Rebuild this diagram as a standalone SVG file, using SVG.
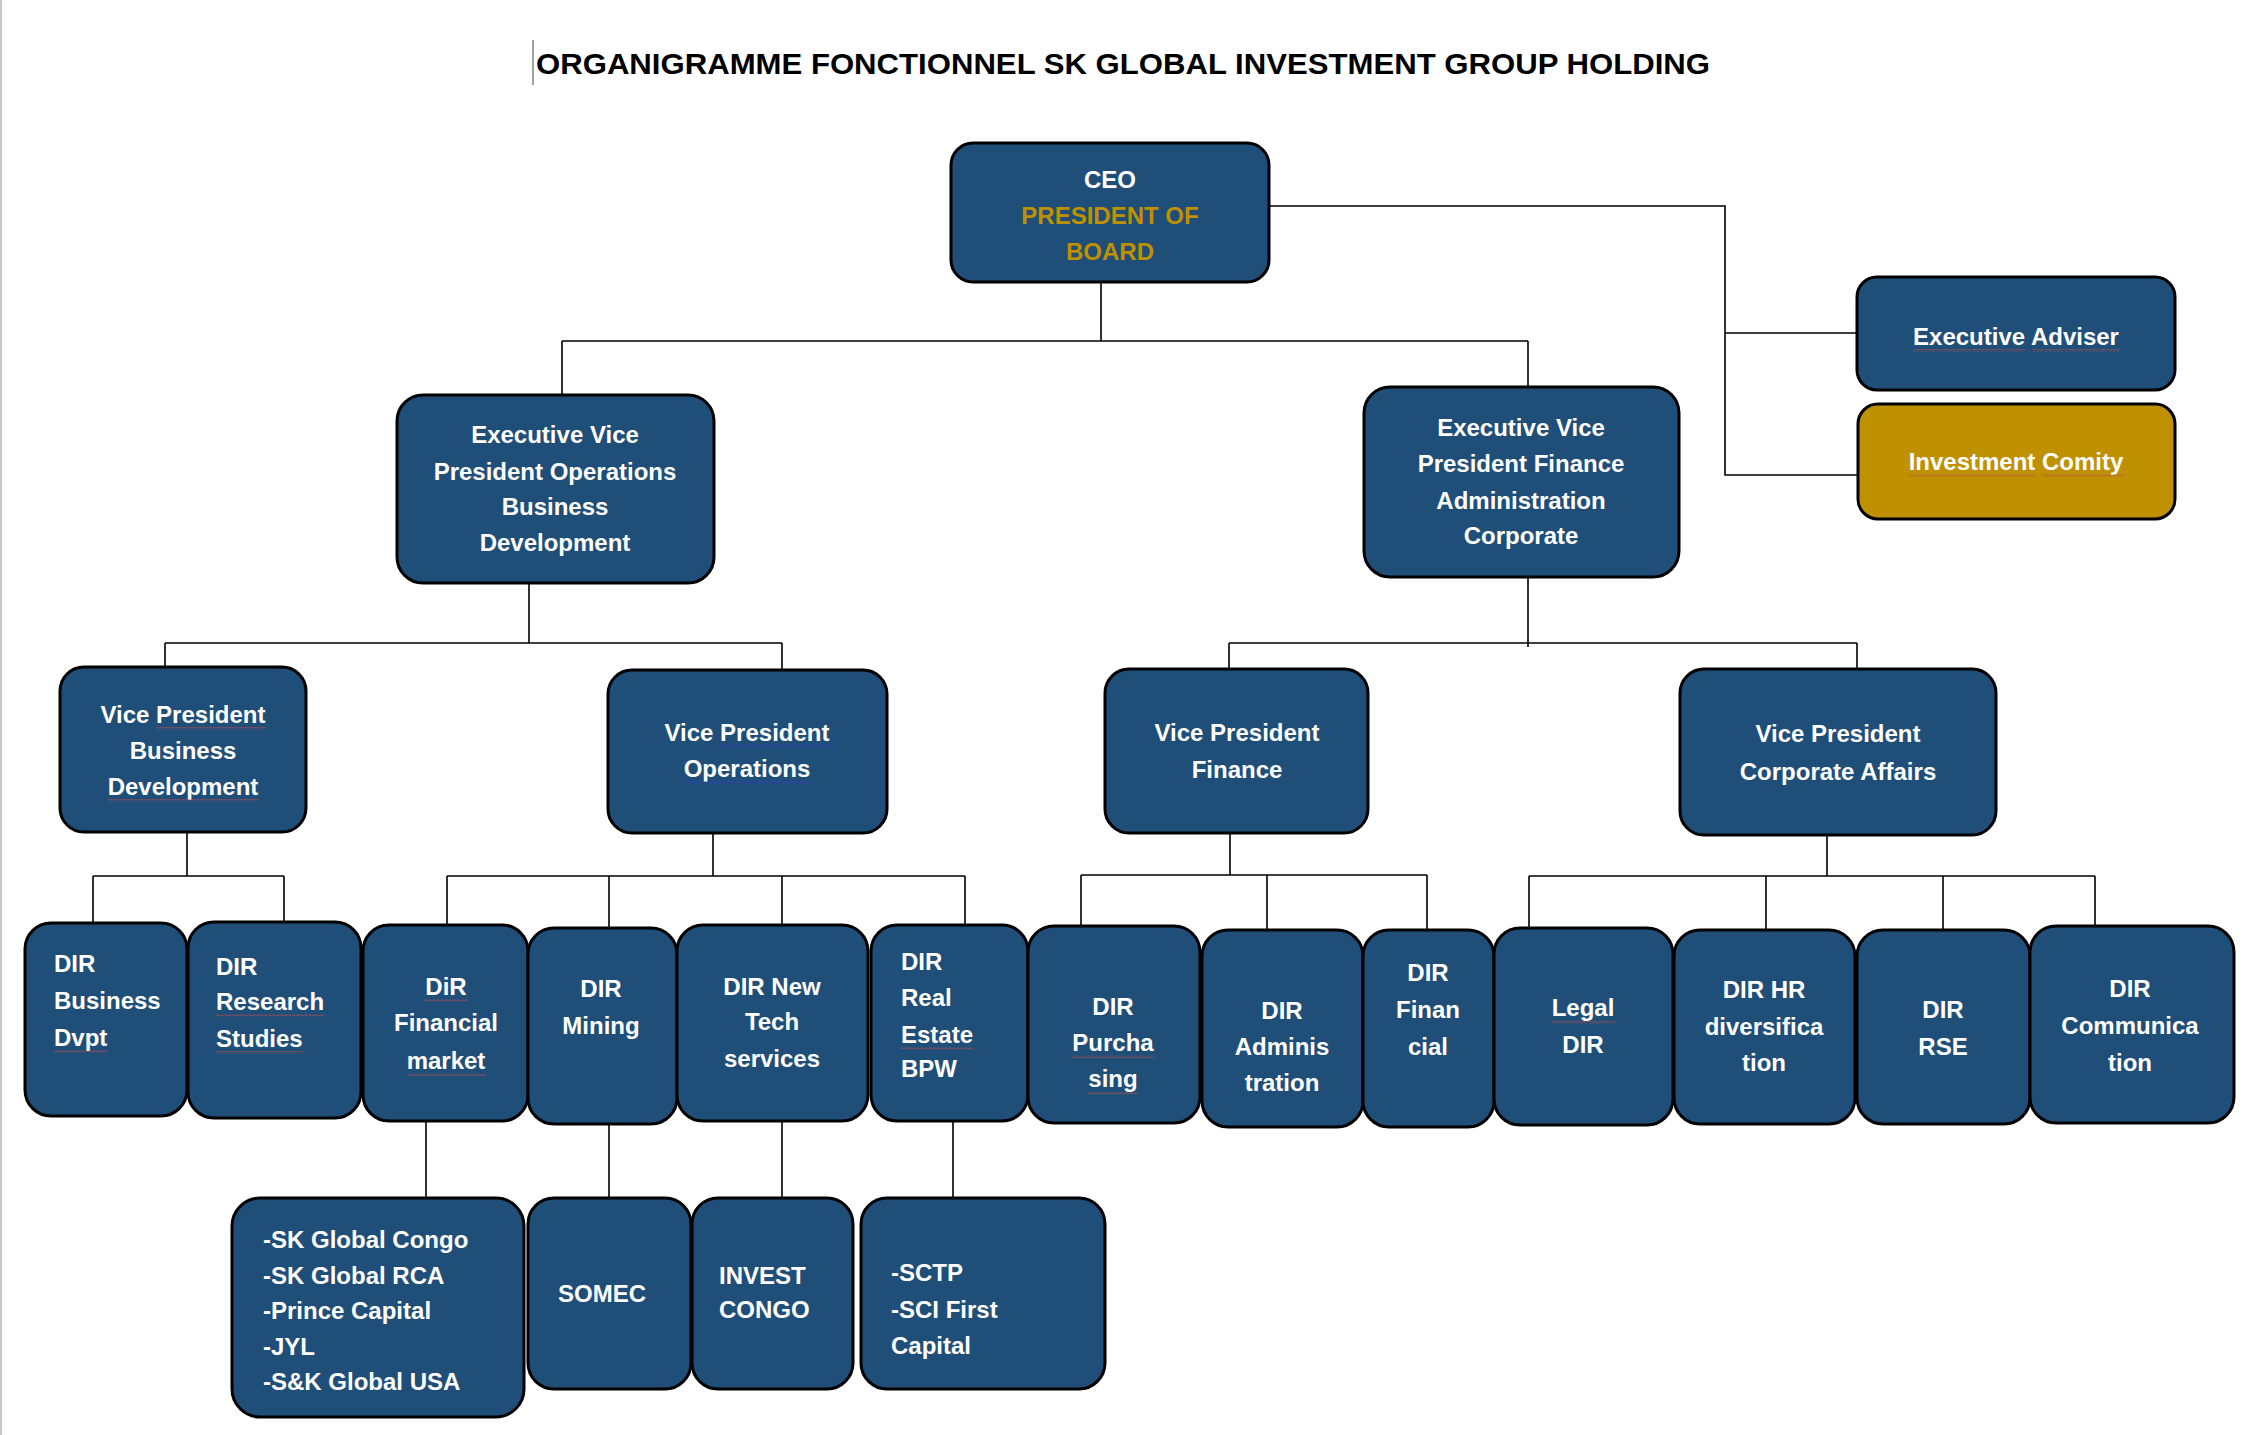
<svg xmlns="http://www.w3.org/2000/svg" width="2244" height="1435" viewBox="0 0 2244 1435">
<defs>
  <pattern id="wavyRed" width="4" height="3" patternUnits="userSpaceOnUse">
    <path d="M0 2.5 L2 0.5 L4 2.5" fill="none" stroke="#c0504d" stroke-width="0.9"/>
  </pattern>
  <pattern id="wavyBlue" width="4" height="3" patternUnits="userSpaceOnUse">
    <path d="M0 2.5 L2 0.5 L4 2.5" fill="none" stroke="#3a3ad0" stroke-width="0.9"/>
  </pattern>
</defs>
<style>
  .box{fill:#1F4E79;stroke:#000;stroke-width:3}
  .gold{fill:#BF9000;stroke:#000;stroke-width:3}
  .t{font-family:"Liberation Sans",Arial,sans-serif;font-weight:bold;font-size:24px;fill:#fff}
  .c{text-anchor:middle}
  .g{fill:#BF9000}
  .conn{fill:none;stroke:#000;stroke-width:1.6}
  .title{font-family:"Liberation Sans",Arial,sans-serif;font-weight:bold;font-size:30px;fill:#000}
  .wr{fill:url(#wavyRed)}
  .wb{fill:url(#wavyBlue)}
</style>
<rect x="0" y="0" width="2244" height="1435" fill="#fff"/>
<line x1="1" y1="0" x2="1" y2="1435" stroke="#c8c8c8" stroke-width="2"/>
<line x1="533" y1="40" x2="533" y2="85" stroke="#444" stroke-width="1"/>
<text class="title" x="536" y="74" textLength="1174" lengthAdjust="spacingAndGlyphs">ORGANIGRAMME FONCTIONNEL SK GLOBAL INVESTMENT GROUP HOLDING</text>

<g id="connectors">
  <path class="conn" d="M1269 206 H1725 V475 H1858 M1725 333 H1857"/>
  <path class="conn" d="M1101 282 V341 M562 341 H1528 M562 341 V395 M1528 341 V387"/>
  <path class="conn" d="M529 583 V643 M165 643 H782 M165 643 V667 M782 643 V670"/>
  <path class="conn" d="M1528 577 V647 M1229 643 H1857 M1229 643 V669 M1857 643 V669"/>
  <path class="conn" d="M187 832 V876 M93 876 H284 M93 876 V923 M284 876 V922"/>
  <path class="conn" d="M713 833 V876 M447 876 H965 M447 876 V925 M609 876 V928 M782 876 V925 M965 876 V925"/>
  <path class="conn" d="M1230 833 V875 M1081 875 H1427 M1081 875 V926 M1267 875 V930 M1427 875 V930"/>
  <path class="conn" d="M1827 835 V876 M1529 876 H2095 M1529 876 V928 M1766 876 V930 M1943 876 V930 M2095 876 V926"/>
  <path class="conn" d="M426 1121 V1198 M609 1124 V1198 M782 1121 V1198 M953 1121 V1198"/>
</g>

<g id="ceo">
  <rect class="box" x="951" y="143" width="318" height="139" rx="22"/>
  <text class="t c" x="1110" y="188">CEO</text>
  <text class="t c g" x="1110" y="224">PRESIDENT OF</text>
  <text class="t c g" x="1110" y="260">BOARD</text>
</g>
<g id="executive-adviser">
  <rect class="box" x="1857" y="277" width="318" height="113" rx="20"/>
  <text class="t c" x="2016" y="345">Executive Adviser</text>
  <rect class="wr" x="1913" y="349" width="112" height="3"/>
  <rect class="wr" x="2032" y="349" width="88" height="3"/>
</g>
<g id="investment-comity">
  <rect class="gold" x="1858" y="404" width="317" height="115" rx="20"/>
  <text class="t c" x="2016" y="470">Investment Comity</text>
  <rect class="wr" x="1909" y="474" width="126" height="3"/>
  <rect class="wr" x="2042" y="474" width="81" height="3"/>
</g>
<g id="evp-operations">
  <rect class="box" x="397" y="395" width="317" height="188" rx="26"/>
  <text class="t c" x="555" y="443">Executive Vice</text>
  <text class="t c" x="555" y="480">President Operations</text>
  <text class="t c" x="555" y="515">Business</text>
  <text class="t c" x="555" y="551">Development</text>
</g>
<g id="evp-finance">
  <rect class="box" x="1364" y="387" width="315" height="190" rx="26"/>
  <text class="t c" x="1521" y="436">Executive Vice</text>
  <text class="t c" x="1521" y="472">President Finance</text>
  <text class="t c" x="1521" y="509">Administration</text>
  <text class="t c" x="1521" y="544">Corporate</text>
</g>
<g id="vp-business-development">
  <rect class="box" x="60" y="667" width="246" height="165" rx="24"/>
  <text class="t c" x="183" y="723">Vice President</text>
  <text class="t c" x="183" y="759">Business</text>
  <text class="t c" x="183" y="795">Development</text>
  <rect class="wr" x="156" y="727" width="110" height="3"/>
  <rect class="wr" x="108" y="799" width="151" height="3"/>
</g>
<g id="vp-operations">
  <rect class="box" x="608" y="670" width="279" height="163" rx="24"/>
  <text class="t c" x="747" y="741">Vice President</text>
  <text class="t c" x="747" y="777">Operations</text>
  <rect class="wb" x="720" y="745" width="116" height="3"/>
  <rect class="wb" x="684" y="781" width="127" height="3"/>
</g>
<g id="vp-finance">
  <rect class="box" x="1105" y="669" width="263" height="164" rx="24"/>
  <text class="t c" x="1237" y="741">Vice President</text>
  <text class="t c" x="1237" y="778">Finance</text>
</g>
<g id="vp-corporate-affairs">
  <rect class="box" x="1680" y="669" width="316" height="166" rx="24"/>
  <text class="t c" x="1838" y="742">Vice President</text>
  <text class="t c" x="1838" y="780">Corporate Affairs</text>
</g>

<g id="dir-business-dvpt">
  <rect class="box" x="25" y="923" width="162" height="193" rx="26"/>
  <text class="t" x="54" y="972">DIR</text>
  <text class="t" x="54" y="1009">Business</text>
  <text class="t" x="54" y="1046">Dvpt</text>
  <rect class="wr" x="54" y="1050" width="53" height="3"/>
</g>
<g id="dir-research-studies">
  <rect class="box" x="188" y="922" width="173" height="196" rx="26"/>
  <text class="t" x="216" y="975">DIR</text>
  <text class="t" x="216" y="1010">Research</text>
  <text class="t" x="216" y="1047">Studies</text>
  <rect class="wr" x="216" y="1014" width="108" height="3"/>
  <rect class="wr" x="216" y="1051" width="87" height="3"/>
</g>
<g id="dir-financial-market">
  <rect class="box" x="363" y="925" width="165" height="196" rx="26"/>
  <text class="t c" x="446" y="995">DiR</text>
  <text class="t c" x="446" y="1031">Financial</text>
  <text class="t c" x="446" y="1069">market</text>
  <rect class="wr" x="425" y="999" width="42" height="3"/>
  <rect class="wr" x="407" y="1073" width="79" height="3"/>
</g>
<g id="dir-mining">
  <rect class="box" x="528" y="928" width="149" height="196" rx="26"/>
  <text class="t c" x="601" y="997">DIR</text>
  <text class="t c" x="601" y="1034">Mining</text>
</g>
<g id="dir-new-tech">
  <rect class="box" x="677" y="925" width="191" height="196" rx="26"/>
  <text class="t c" x="772" y="995">DIR New</text>
  <text class="t c" x="772" y="1030">Tech</text>
  <text class="t c" x="772" y="1067">services</text>
</g>
<g id="dir-real-estate">
  <rect class="box" x="871" y="925" width="157" height="196" rx="26"/>
  <text class="t" x="901" y="970">DIR</text>
  <text class="t" x="901" y="1006">Real</text>
  <text class="t" x="901" y="1043">Estate</text>
  <text class="t" x="901" y="1077">BPW</text>
  <rect class="wr" x="901" y="1047" width="72" height="3"/>
</g>
<g id="dir-purchasing">
  <rect class="box" x="1028" y="926" width="172" height="197" rx="26"/>
  <text class="t c" x="1113" y="1015">DIR</text>
  <text class="t c" x="1113" y="1051">Purcha</text>
  <text class="t c" x="1113" y="1087">sing</text>
  <rect class="wr" x="1072" y="1055" width="82" height="3"/>
  <rect class="wr" x="1088" y="1092" width="50" height="3"/>
</g>
<g id="dir-administration">
  <rect class="box" x="1202" y="930" width="161" height="197" rx="26"/>
  <text class="t c" x="1282" y="1019">DIR</text>
  <text class="t c" x="1282" y="1055">Adminis</text>
  <text class="t c" x="1282" y="1091">tration</text>
</g>
<g id="dir-financial">
  <rect class="box" x="1363" y="930" width="131" height="197" rx="26"/>
  <text class="t c" x="1428" y="981">DIR</text>
  <text class="t c" x="1428" y="1018">Finan</text>
  <text class="t c" x="1428" y="1055">cial</text>
</g>
<g id="legal-dir">
  <rect class="box" x="1494" y="928" width="179" height="197" rx="26"/>
  <text class="t c" x="1583" y="1016">Legal</text>
  <text class="t c" x="1583" y="1053">DIR</text>
  <rect class="wr" x="1552" y="1021" width="63" height="3"/>
</g>
<g id="dir-hr">
  <rect class="box" x="1674" y="930" width="181" height="194" rx="26"/>
  <text class="t c" x="1764" y="998">DIR HR</text>
  <text class="t c" x="1764" y="1035">diversifica</text>
  <text class="t c" x="1764" y="1071">tion</text>
</g>
<g id="dir-rse">
  <rect class="box" x="1857" y="930" width="173" height="194" rx="26"/>
  <text class="t c" x="1943" y="1018">DIR</text>
  <text class="t c" x="1943" y="1055">RSE</text>
</g>
<g id="dir-communication">
  <rect class="box" x="2030" y="926" width="204" height="197" rx="26"/>
  <text class="t c" x="2130" y="997">DIR</text>
  <text class="t c" x="2130" y="1034">Communica</text>
  <text class="t c" x="2130" y="1071">tion</text>
</g>

<g id="financial-market-entities">
  <rect class="box" x="232" y="1198" width="292" height="219" rx="28"/>
  <text class="t" x="263" y="1248">-SK Global Congo</text>
  <text class="t" x="263" y="1284">-SK Global RCA</text>
  <text class="t" x="263" y="1319">-Prince Capital</text>
  <text class="t" x="263" y="1355">-JYL</text>
  <text class="t" x="263" y="1390">-S&amp;K Global USA</text>
</g>
<g id="somec">
  <rect class="box" x="528" y="1198" width="163" height="191" rx="26"/>
  <text class="t c" x="602" y="1302">SOMEC</text>
</g>
<g id="invest-congo">
  <rect class="box" x="692" y="1198" width="161" height="191" rx="26"/>
  <text class="t" x="719" y="1284">INVEST</text>
  <text class="t" x="719" y="1318">CONGO</text>
</g>
<g id="real-estate-entities">
  <rect class="box" x="861" y="1198" width="244" height="191" rx="26"/>
  <text class="t" x="891" y="1281">-SCTP</text>
  <text class="t" x="891" y="1318">-SCI First</text>
  <text class="t" x="891" y="1354">Capital</text>
</g>
</svg>
